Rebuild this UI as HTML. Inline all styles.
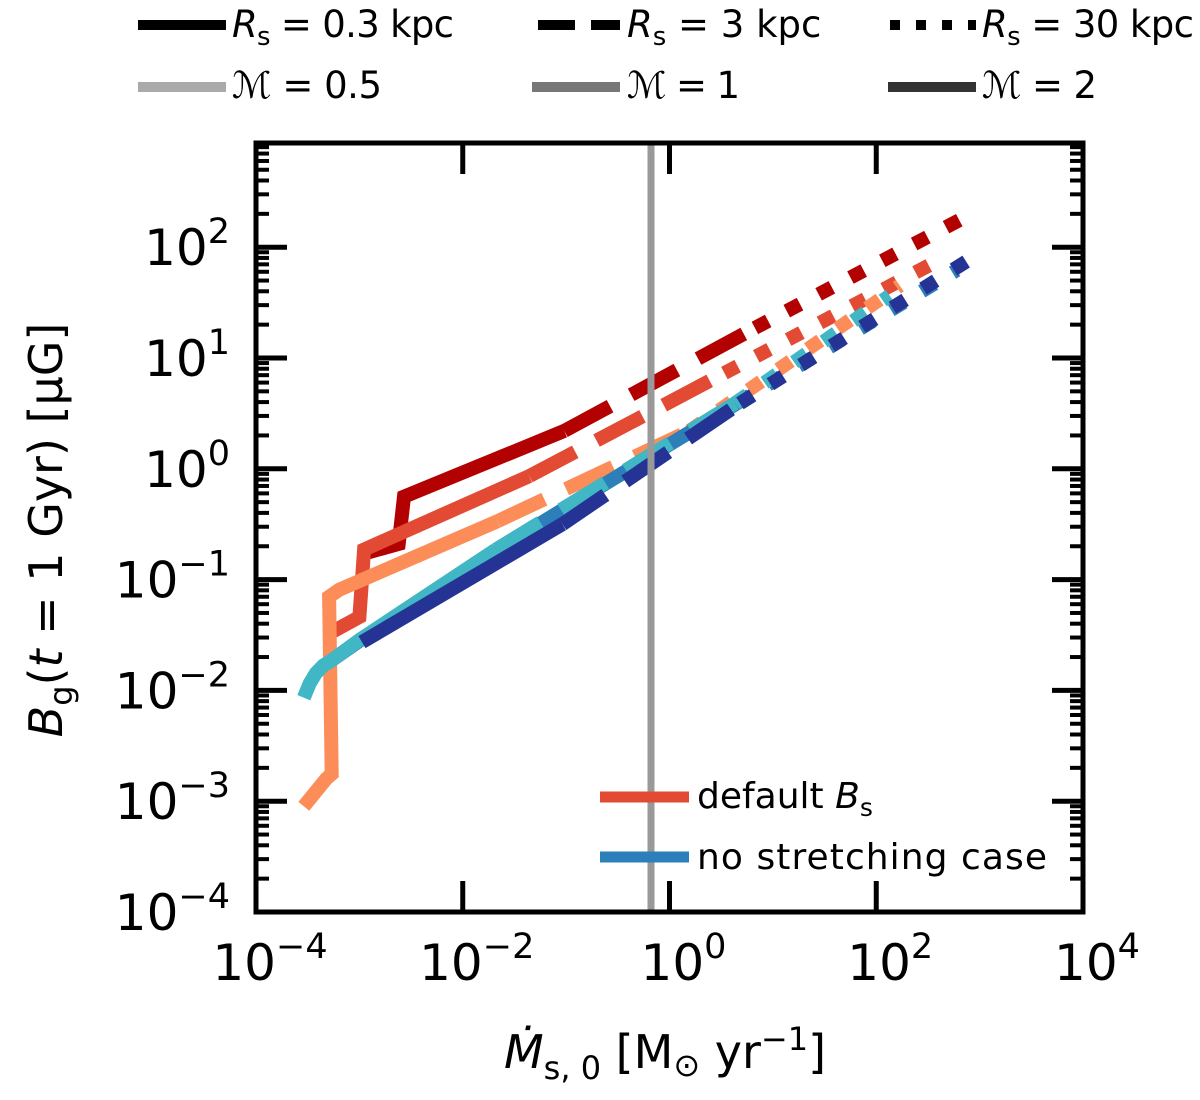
<!DOCTYPE html>
<html><head><meta charset="utf-8"><style>
body{margin:0;background:#fff}
svg{display:block;font-family:"DejaVu Sans","Liberation Sans",sans-serif}
</style></head><body>
<svg id="chart" width="1200" height="1100" viewBox="0 0 1200 1100" xmlns="http://www.w3.org/2000/svg">
<g id="series"></g>
<line x1="651" y1="143" x2="651" y2="912" stroke="#999" stroke-width="7"/>
<g id="axes"></g>
<g>
 <line x1="600" y1="797" x2="689" y2="797" stroke="#e34a33" stroke-width="11"/>
 <text x="697" y="808" font-size="36">default <tspan font-style="italic">B</tspan><tspan font-size="25" dy="8">s</tspan></text>
 <line x1="600" y1="857" x2="689" y2="857" stroke="#2c7fb8" stroke-width="11"/>
 <text x="697" y="869" font-size="36" textLength="350">no stretching case</text>
</g>
<g font-size="37">
 <line x1="138" y1="25" x2="226" y2="25" stroke="#000" stroke-width="10"/>
 <text x="232" y="37" textLength="222" lengthAdjust="spacing"><tspan font-style="italic">R</tspan><tspan font-size="26" dy="8">s</tspan><tspan dy="-8"> = 0.3 kpc</tspan></text>
 <line x1="538" y1="25" x2="620" y2="25" stroke="#000" stroke-width="10" stroke-dasharray="37,16"/>
 <text x="627" y="37"><tspan font-style="italic">R</tspan><tspan font-size="26" dy="8">s</tspan><tspan dy="-8"> = 3 kpc</tspan></text>
 <line x1="890" y1="25" x2="976" y2="25" stroke="#000" stroke-width="10" stroke-dasharray="10,16"/>
 <text x="982" y="37" textLength="212" lengthAdjust="spacing"><tspan font-style="italic">R</tspan><tspan font-size="26" dy="8">s</tspan><tspan dy="-8"> = 30 kpc</tspan></text>
 <line x1="138" y1="87" x2="226" y2="87" stroke="#aaa" stroke-width="10"/>
 <text x="232" y="98" textLength="150" lengthAdjust="spacing"><tspan font-style="italic">ℳ</tspan> = 0.5</text>
 <line x1="532" y1="87" x2="620" y2="87" stroke="#777" stroke-width="10"/>
 <text x="627" y="98" textLength="113" lengthAdjust="spacing"><tspan font-style="italic">ℳ</tspan> = 1</text>
 <line x1="888" y1="87" x2="976" y2="87" stroke="#333" stroke-width="10"/>
 <text x="982" y="98" textLength="115" lengthAdjust="spacing"><tspan font-style="italic">ℳ</tspan> = 2</text>
</g>
<text transform="translate(62,530) rotate(-90)" text-anchor="middle" font-size="46"><tspan font-style="italic">B</tspan><tspan font-size="32" dy="10">g</tspan><tspan dy="-10">(</tspan><tspan font-style="italic">t</tspan> = 1 Gyr) [μG]</text>
<text x="665" y="1068" text-anchor="middle" font-size="46"><tspan font-style="italic">Ṁ</tspan><tspan font-size="32" dy="11">s, 0</tspan><tspan dy="-11"> [M</tspan><tspan font-size="32" dy="8">⊙</tspan><tspan dy="-8"> yr</tspan><tspan font-size="32" dy="-18">−1</tspan><tspan dy="18">]</tspan></text>
<script>
const xTicks = [-4, -2, 0, 2, 4];
const yTicks = [-4, -3, -2, -1, 0, 1, 2];
const darkRedX = [1.06e-3, 2.4e-3, 2.7e-3, 0.096, 6.7, 900];
const darkRedY = [0.17, 0.21, 0.56, 2.2, 18.7, 208];
const darkRedSeg = ['s','s','s','d','o'];
const medRedX = [5.4e-4, 1.0e-3, 1.11e-3, 0.044, 3.4, 369];
const medRedY = [0.0336, 0.046, 0.187, 0.86, 7.3, 73];
const medRedSeg = ['s','s','s','d','o'];
const orangeX = [2.9e-4, 4.8e-4, 5.4e-4, 5.1e-4, 6.4e-4, 0.0216, 1.56, 169];
const orangeY = [9e-4, 1.6e-3, 1.76e-3, 0.07, 0.081, 0.336, 2.2, 45];
const orangeSeg = ['s','s','s','s','s','d','o'];
const cyanX = [2.9e-4, 3.3e-4, 3.8e-4, 4.5e-4, 5.4e-4, 1e-3, 0.021, 4.3, 135];
const cyanY = [8.6e-3, 0.0115, 0.0143, 0.0168, 0.0187, 0.0285, 0.187, 3.9, 36.6];
const cyanSeg = ['s','s','s','s','s','s','d','o'];
const blueX = [5.4e-4, 1e-3, 0.05, 4.5, 600];
const blueY = [0.0187, 0.028, 0.3, 3.9, 62];
const blueSeg = ['s','s','d','o'];
const navyX = [1.06e-3, 0.092, 4.8, 805];
const navyY = [0.0273, 0.316, 3.9, 78];
const navySeg = ['s','d','o'];

const NS = 'http://www.w3.org/2000/svg';
const L = 256, R = 1083, T = 143, B = 912;
function sx(v){ return L + (Math.log10(v) + 4) * (R - L) / 8; }
function sy(v){ return B - (Math.log10(v) + 4) * 110.8; }

const sg = document.getElementById('series');
function drawSeries(name, xs, ys, segs, color){
  let i = 0;
  while (i < segs.length){
    let j = i;
    while (j + 1 < segs.length && segs[j+1] === segs[i]) j++;
    const pts = [];
    for (let k = i; k <= j + 1; k++) pts.push(sx(xs[k]).toFixed(1) + ',' + sy(ys[k]).toFixed(1));
    const pl = document.createElementNS(NS, 'polyline');
    pl.setAttribute('points', pts.join(' '));
    pl.setAttribute('fill', 'none');
    pl.setAttribute('stroke', color);
    pl.setAttribute('stroke-width', '14');
    pl.setAttribute('stroke-linejoin', 'miter');
    if (segs[i] === 'd') pl.setAttribute('stroke-dasharray', '52,24');
    if (segs[i] === 'o') pl.setAttribute('stroke-dasharray', '15,21');
    
    
    sg.appendChild(pl);
    i = j + 1;
  }
}
drawSeries('dark-red', darkRedX, darkRedY, darkRedSeg, '#b30000');
drawSeries('medium-red', medRedX, medRedY, medRedSeg, '#e34a33');
drawSeries('orange', orangeX, orangeY, orangeSeg, '#fc8d59');
drawSeries('blue', blueX, blueY, blueSeg, '#2c7fb8');
drawSeries('cyan', cyanX, cyanY, cyanSeg, '#41b6c4');
drawSeries('navy', navyX, navyY, navySeg, '#253494');

const ax = document.getElementById('axes');
function ln(x1,y1,x2,y2,w){
  const l = document.createElementNS(NS,'line');
  l.setAttribute('x1',x1); l.setAttribute('y1',y1); l.setAttribute('x2',x2); l.setAttribute('y2',y2);
  l.setAttribute('stroke','#000'); l.setAttribute('stroke-width',w);
  
  
  ax.appendChild(l); return l;
}
const frame = document.createElementNS(NS,'rect');
frame.setAttribute('x',L); frame.setAttribute('y',T); frame.setAttribute('width',R-L); frame.setAttribute('height',B-T);
frame.setAttribute('fill','none'); frame.setAttribute('stroke','#000'); frame.setAttribute('stroke-width','5');


ax.appendChild(frame);
function supLabel(x, y, exp, anchor, name){
  const t = document.createElementNS(NS,'text');
  t.setAttribute('x',x); t.setAttribute('y',y); t.setAttribute('font-size','50'); t.setAttribute('text-anchor',anchor);
  
  
  const a = document.createElementNS(NS,'tspan'); a.textContent = '10';
  const b = document.createElementNS(NS,'tspan'); b.setAttribute('font-size','35'); b.setAttribute('dy','-22');
  b.textContent = exp < 0 ? '−' + Math.abs(exp) : String(exp);
  t.appendChild(a); t.appendChild(b); ax.appendChild(t);
}
xTicks.forEach(e => {
  const x = sx(Math.pow(10, e));
  ln(x, B, x, B - 31, 5); ln(x, T, x, T + 31, 5);
  supLabel(x + 14, 980, e, 'middle', 'x-tick-label');
});
yTicks.forEach(e => {
  const y = sy(Math.pow(10, e));
  ln(L, y, L + 31, y, 5); ln(R, y, R - 31, y, 5);
  supLabel(230, y + 18, e, 'end', 'y-tick-label');
});
for (let e = -4; e <= 2; e++){
  for (let m = 2; m <= 9; m++){
    const v = m * Math.pow(10, e);
    const y = sy(v);
    if (y < T) continue;
    ln(L, y, L + 13, y, 4); ln(R, y, R - 13, y, 4);
  }
}
</script>
</svg>
</body></html>
